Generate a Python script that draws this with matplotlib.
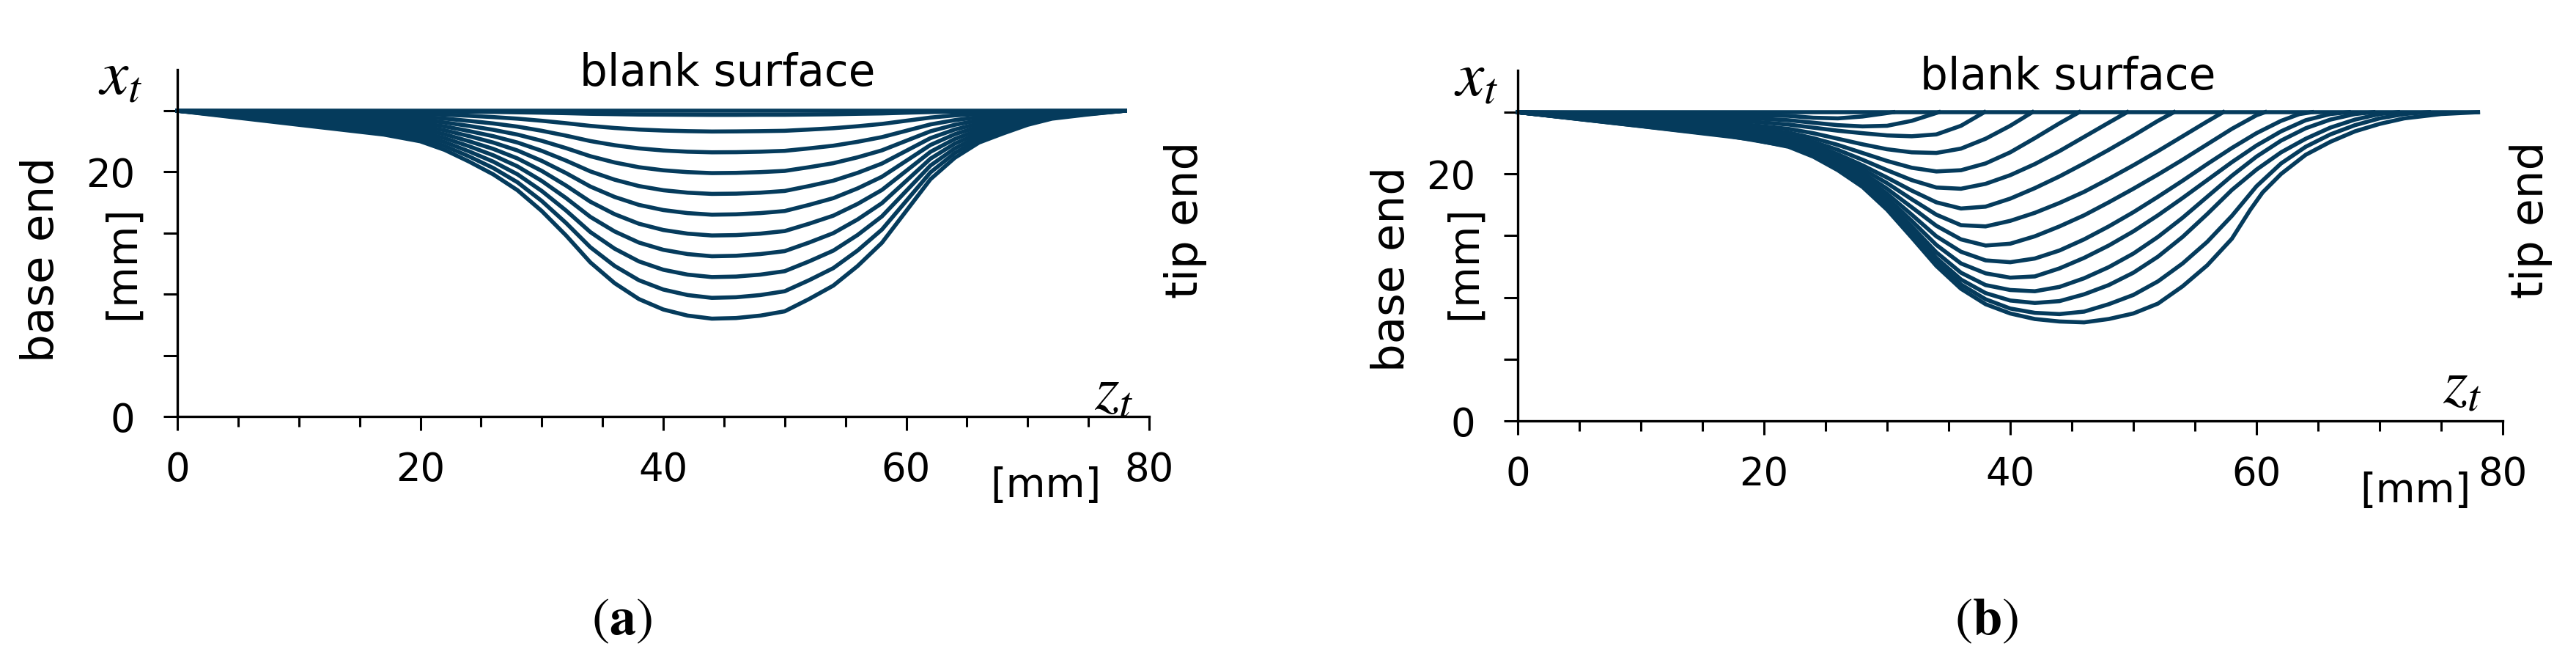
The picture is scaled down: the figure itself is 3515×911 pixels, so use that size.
import matplotlib
matplotlib.use('Agg')
import matplotlib.pyplot as plt
from matplotlib.ticker import MultipleLocator

plt.rcParams['font.family'] = ['DejaVu Sans']
plt.rcParams['mathtext.fontset'] = 'stix'

LINE = '#053b5c'

# ---- panel (a): tool paths, x_t over z_t, common z grid ----
z_a = [0, 10, 17, 20, 22, 24, 26, 28, 30, 32, 34, 36, 38, 40, 42, 44, 46, 48,
       50, 52, 54, 56, 58, 60, 62, 64, 66, 68, 70, 72, 75, 78]

paths_a = [
    [25] * 32,
    [25, 24.98, 24.96, 24.95, 24.94, 24.92, 24.9, 24.87, 24.84, 24.8, 24.75, 24.72, 24.69, 24.68, 24.67, 24.66,
     24.66, 24.67, 24.67, 24.69, 24.71, 24.75, 24.78, 24.84, 24.89, 24.92, 24.95, 24.96, 24.98, 24.99, 24.99, 25],
    [25, 24.89, 24.81, 24.75, 24.68, 24.59, 24.48, 24.35, 24.18, 23.98, 23.76, 23.59, 23.46, 23.38, 23.33, 23.3,
     23.31, 23.33, 23.36, 23.46, 23.57, 23.73, 23.92, 24.18, 24.44, 24.62, 24.74, 24.82, 24.89, 24.94, 24.97, 25],
    [25, 24.77, 24.61, 24.5, 24.36, 24.17, 23.96, 23.7, 23.36, 22.96, 22.52, 22.18, 21.92, 21.75, 21.65, 21.6,
     21.61, 21.65, 21.72, 21.92, 22.14, 22.46, 22.84, 23.36, 23.88, 24.23, 24.48, 24.63, 24.77, 24.87, 24.94, 25],
    [25, 24.66, 24.42, 24.25, 24.04, 23.76, 23.44, 23.05, 22.54, 21.94, 21.28, 20.77, 20.38, 20.13, 19.98, 19.9,
     19.92, 19.98, 20.08, 20.38, 20.71, 21.19, 21.76, 22.54, 23.32, 23.85, 24.22, 24.45, 24.66, 24.81, 24.91, 25],
    [25, 24.54, 24.22, 24.0, 23.72, 23.34, 22.92, 22.4, 21.72, 20.92, 20.04, 19.36, 18.84, 18.5, 18.3, 18.2,
     18.22, 18.3, 18.44, 18.84, 19.28, 19.92, 20.68, 21.72, 22.76, 23.46, 23.96, 24.26, 24.54, 24.74, 24.88, 25],
    [25, 24.43, 24.03, 23.75, 23.4, 22.93, 22.4, 21.75, 20.9, 19.9, 18.8, 17.95, 17.3, 16.88, 16.63, 16.5,
     16.53, 16.63, 16.8, 17.3, 17.85, 18.65, 19.6, 20.9, 22.2, 23.08, 23.7, 24.08, 24.43, 24.68, 24.85, 25],
    [25, 24.31, 23.83, 23.5, 23.08, 22.51, 21.88, 21.1, 20.08, 18.88, 17.56, 16.54, 15.76, 15.25, 14.95, 14.8,
     14.83, 14.95, 15.16, 15.76, 16.42, 17.38, 18.52, 20.08, 21.64, 22.69, 23.44, 23.89, 24.31, 24.61, 24.82, 25],
    [25, 24.2, 23.64, 23.25, 22.76, 22.1, 21.36, 20.45, 19.26, 17.86, 16.32, 15.13, 14.22, 13.63, 13.28, 13.1,
     13.14, 13.28, 13.52, 14.22, 14.99, 16.11, 17.44, 19.26, 21.08, 22.31, 23.18, 23.71, 24.2, 24.55, 24.79, 25],
    [25, 24.08, 23.44, 23.0, 22.44, 21.68, 20.84, 19.8, 18.44, 16.84, 15.08, 13.72, 12.68, 12.0, 11.6, 11.4,
     11.44, 11.6, 11.88, 12.68, 13.56, 14.84, 16.36, 18.44, 20.52, 21.92, 22.92, 23.52, 24.08, 24.48, 24.76, 25],
    [25, 23.97, 23.25, 22.75, 22.12, 21.27, 20.32, 19.15, 17.62, 15.82, 13.84, 12.31, 11.14, 10.38, 9.93, 9.7,
     9.75, 9.93, 10.24, 11.14, 12.13, 13.57, 15.28, 17.62, 19.96, 21.54, 22.66, 23.34, 23.97, 24.42, 24.73, 25],
    [25, 23.85, 23.05, 22.5, 21.8, 20.85, 19.8, 18.5, 16.8, 14.8, 12.6, 10.9, 9.6, 8.75, 8.25, 8.0,
     8.05, 8.25, 8.6, 9.6, 10.7, 12.3, 14.2, 16.8, 19.4, 21.15, 22.4, 23.15, 23.85, 24.35, 24.7, 25],
]

# ---- panel (b): each path has its own z points ----
paths_b = [
    ([0, 78], [25, 25]),
    ([0, 17, 22, 24, 26, 28, 30.5],
     [25, 24.82, 24.7, 24.55, 24.5, 24.65, 25]),
    ([0, 17, 22, 24, 26, 28, 30, 32, 34.2],
     [25, 24.62, 24.35, 24.15, 23.95, 23.85, 23.9, 24.3, 25]),
    ([0, 17, 22, 24, 26, 28, 30, 32, 34, 36, 37.9],
     [25, 24.4, 24.0, 23.75, 23.5, 23.3, 23.12, 23.05, 23.2, 23.9, 25]),
    ([0, 17, 22, 24, 26, 28, 30, 32, 34, 36, 38, 40, 41.8],
     [25, 24.15, 23.65, 23.3, 22.85, 22.4, 22.0, 21.75, 21.7, 22.05, 22.85, 23.9, 25]),
    ([0, 17, 22, 24, 26, 28, 30, 32, 34, 36, 38, 40, 42, 44, 45.6],
     [25, 23.95, 23.35, 22.9, 22.35, 21.7, 21.05, 20.5, 20.2, 20.3, 20.85, 21.75, 22.9, 24.1, 25]),
    ([0, 17, 22, 24, 26, 28, 30, 32, 34, 36, 38, 40, 42, 44, 46, 48, 49.5],
     [25, 23.8, 23.1, 22.6, 21.95, 21.15, 20.3, 19.5, 18.9, 18.8, 19.2, 19.9, 20.8, 21.85, 23.0, 24.15, 25]),
    ([0, 17, 22, 24, 26, 28, 30, 32, 34, 36, 38, 40, 42, 44, 46, 48, 50, 52, 53.3],
     [25, 23.65, 22.9, 22.35, 21.6, 20.7, 19.7, 18.65, 17.7, 17.2, 17.35, 18.0, 18.85, 19.8, 20.85, 21.95,
      23.1, 24.3, 25]),
    ([0, 17, 22, 24, 26, 28, 30, 32, 34, 36, 38, 40, 42, 44, 46, 48, 50, 52, 54, 56, 57.3],
     [25, 23.5, 22.75, 22.15, 21.35, 20.4, 19.25, 17.95, 16.7, 15.85, 15.75, 16.2, 16.85, 17.65, 18.55, 19.6,
      20.7, 21.85, 23.05, 24.25, 25]),
    ([0, 17, 22, 24, 26, 28, 30, 32, 34, 36, 38, 40, 42, 44, 46, 48, 50, 52, 54, 56, 58, 60, 60.7],
     [25, 23.45, 22.65, 22.0, 21.15, 20.1, 18.8, 17.3, 15.8, 14.7, 14.2, 14.35, 14.95, 15.75, 16.65, 17.7,
      18.8, 19.95, 21.15, 22.4, 23.65, 24.75, 25]),
    ([0, 17, 22, 24, 26, 28, 30, 32, 34, 36, 38, 40, 42, 44, 46, 48, 50, 52, 54, 56, 58, 60, 62, 63.5, 64.5],
     [25, 23.35, 22.55, 21.85, 20.95, 19.85, 18.4, 16.7, 14.95, 13.7, 13.0, 12.85, 13.15, 13.8, 14.7, 15.75,
      16.9, 18.15, 19.45, 20.8, 22.1, 23.3, 24.3, 24.85, 25]),
    ([0, 17, 22, 24, 26, 28, 30, 32, 34, 36, 38, 40, 42, 44, 46, 48, 50, 52, 54, 56, 58, 60, 62, 64, 66, 67.5],
     [25, 23.3, 22.45, 21.7, 20.75, 19.6, 18.05, 16.2, 14.25, 12.75, 11.95, 11.6, 11.7, 12.35, 13.2, 14.2,
      15.35, 16.65, 18.05, 19.5, 20.95, 22.3, 23.45, 24.35, 24.85, 25]),
    ([0, 17, 22, 24, 26, 28, 30, 32, 34, 36, 38, 40, 42, 44, 46, 48, 50, 52, 54, 56, 58, 60, 62, 64, 66, 68,
      69.5],
     [25, 23.2, 22.35, 21.6, 20.6, 19.4, 17.75, 15.75, 13.65, 12.0, 11.0, 10.6, 10.5, 10.85, 11.55, 12.45,
      13.55, 14.9, 16.45, 18.15, 19.85, 21.4, 22.7, 23.7, 24.4, 24.85, 25]),
    ([0, 17, 22, 24, 26, 28, 30, 32, 34, 36, 38, 40, 42, 44, 46, 48, 50, 52, 54, 56, 58, 60, 62, 64, 66, 68,
      70, 71.5],
     [25, 23.15, 22.3, 21.5, 20.5, 19.25, 17.5, 15.4, 13.2, 11.45, 10.35, 9.75, 9.55, 9.7, 10.25, 11.0,
      12.0, 13.3, 14.9, 16.75, 18.7, 20.35, 21.75, 22.85, 23.75, 24.4, 24.85, 25]),
    ([0, 17, 22, 24, 26, 28, 30, 32, 34, 36, 38, 40, 42, 44, 46, 48, 50, 52, 54, 56, 58, 60, 62, 64, 66, 68,
      70, 72, 74],
     [25, 23.1, 22.25, 21.45, 20.4, 19.1, 17.3, 15.1, 12.85, 11.05, 9.85, 9.1, 8.75, 8.65, 8.85, 9.45,
      10.2, 11.3, 12.75, 14.5, 16.6, 19.0, 20.85, 22.2, 23.2, 23.95, 24.5, 24.85, 25]),
    ([0, 10, 17, 19, 21, 22, 24, 26, 28, 30, 32, 34, 36, 38, 40, 42, 44, 46, 48, 50, 52, 54, 56, 58, 59.5,
      60.5, 62, 64, 66, 68, 70, 72, 75, 78],
     [25, 23.87, 23.05, 22.8, 22.4, 22.2, 21.4, 20.3, 18.95, 17.1, 14.85, 12.55, 10.7, 9.45, 8.7, 8.25,
      8.05, 7.98, 8.25, 8.7, 9.5, 10.9, 12.6, 14.75, 17.1, 18.5, 20.0, 21.55, 22.6, 23.45, 24.05, 24.5,
      24.85, 25]),
]

W, H = 3516, 911
fig = plt.figure(figsize=(W / 100, H / 100), dpi=100)


def make_axes(x0, x80, y0, ytop_px, px_per_mm):
    # rect from pixel positions of the axis origin and ends
    ax = fig.add_axes([x0 / W, (H - y0) / H, (x80 - x0) / W, (y0 - ytop_px) / H])
    ax.set_xlim(0, 80)
    ax.set_ylim(0, (y0 - ytop_px) / px_per_mm)
    for s in ['top', 'right']:
        ax.spines[s].set_visible(False)
    for s in ['left', 'bottom']:
        ax.spines[s].set_linewidth(2.4)
    ax.set_xticks([0, 20, 40, 60, 80])
    ax.xaxis.set_minor_locator(MultipleLocator(5))
    ax.set_yticks([0, 5, 10, 15, 20, 25])
    ax.set_yticklabels(['0', '', '', '', '20', ''])
    ax.tick_params(axis='x', which='major', direction='out', length=14, width=2.2,
                   labelsize=38, pad=20)
    ax.tick_params(axis='x', which='minor', direction='out', length=10, width=2.2)
    ax.tick_params(axis='y', which='major', direction='out', length=13.5, width=2.2,
                   labelsize=38, pad=28)
    return ax


def decorate(ax, pos):
    ax.text(pos['blank'][0], pos['blank'][1], 'blank surface', fontsize=43,
            ha='center', va='center')
    ax.text(pos['xt'][0], pos['xt'][1], r'$x_t$', fontsize=62, ha='center', va='center')
    ax.text(pos['zt'][0], pos['zt'][1], r'$z_t$', fontsize=62, ha='center', va='center')
    ax.text(pos['base'][0], pos['base'][1], 'base end', fontsize=44, rotation=90,
            ha='center', va='center')
    ax.text(pos['mmy'][0], pos['mmy'][1], '[mm]', fontsize=41, rotation=90,
            ha='center', va='center')
    ax.text(pos['tip'][0], pos['tip'][1], 'tip end', fontsize=44, rotation=90,
            ha='center', va='center')
    ax.text(pos['mmx'][0], pos['mmx'][1], '[mm]', fontsize=40, ha='center', va='center')


ax_a = make_axes(242, 1568, 568, 95, 16.68)
for xs in paths_a:
    ax_a.plot(z_a, xs, color=LINE, lw=4.0, solid_joinstyle='round', clip_on=False)
decorate(ax_a, {'blank': (45.3, 28.0), 'xt': (-4.7, 27.8), 'zt': (77.1, 2.0),
                'base': (-11.2, 12.8), 'mmy': (-4.5, 12.6), 'tip': (83.0, 16.1),
                'mmx': (71.5, -5.7)})

ax_b = make_axes(2071, 3415, 574, 96, 16.84)
for zs, xs in paths_b:
    ax_b.plot(zs, xs, color=LINE, lw=4.0, solid_joinstyle='round', clip_on=False)
decorate(ax_b, {'blank': (44.7, 27.8), 'xt': (-3.4, 27.75), 'zt': (76.7, 2.9),
                'base': (-10.2, 12.3), 'mmy': (-4.35, 12.8), 'tip': (82.3, 16.3),
                'mmx': (72.9, -5.7)})

fig.text(848 / W, 1 - 846 / H, r'$(\mathbf{a})$', fontsize=52, ha='center', va='center')
fig.text(2710 / W, 1 - 846 / H, r'$(\mathbf{b})$', fontsize=52, ha='center', va='center')

fig.savefig('out.png', dpi=100)
